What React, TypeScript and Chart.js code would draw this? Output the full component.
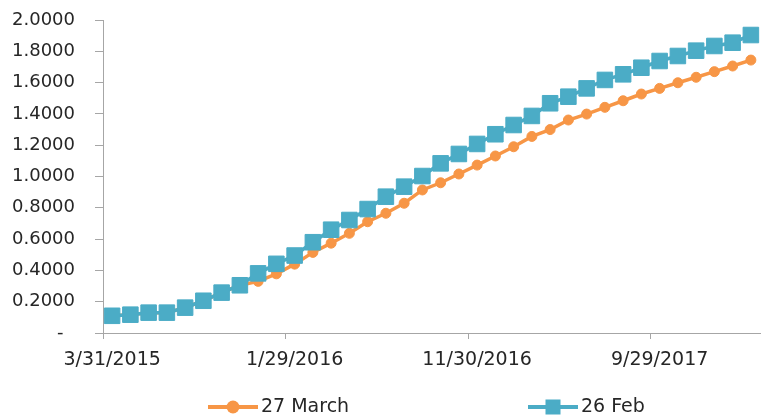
import React, { useEffect, useRef } from 'react';
import { Chart, registerables } from 'chart.js';

Chart.register(...registerables);

// Month-end observation dates
const dates: string[] = [
  '3/31/2015', '4/30/2015', '5/29/2015', '6/30/2015', '7/31/2015', '8/31/2015',
  '9/30/2015', '10/30/2015', '11/30/2015', '12/31/2015',
  '1/29/2016', '2/29/2016', '3/31/2016', '4/29/2016', '5/31/2016', '6/30/2016',
  '7/29/2016', '8/31/2016', '9/30/2016', '10/31/2016', '11/30/2016', '12/30/2016',
  '1/31/2017', '2/28/2017', '3/31/2017', '4/28/2017', '5/31/2017', '6/30/2017',
  '7/31/2017', '8/31/2017', '9/29/2017', '10/31/2017', '11/30/2017', '12/29/2017',
  '1/31/2018', '2/28/2018',
];

// Curve as of 27 March
const march27: number[] = [
  0.110, 0.117, 0.130, 0.130, 0.162, 0.206, 0.258, 0.305, 0.330, 0.378,
  0.440, 0.515, 0.574, 0.637, 0.711, 0.765, 0.829, 0.914, 0.960, 1.016,
  1.073, 1.131, 1.190, 1.256, 1.300, 1.361, 1.399, 1.442, 1.484, 1.527,
  1.563, 1.599, 1.634, 1.670, 1.706, 1.744,
];

// Curve as of 26 Feb
const feb26: number[] = [
  0.110, 0.117, 0.130, 0.130, 0.162, 0.206, 0.258, 0.305, 0.381, 0.442,
  0.495, 0.580, 0.660, 0.722, 0.792, 0.871, 0.935, 1.003, 1.084, 1.144,
  1.208, 1.270, 1.329, 1.387, 1.468, 1.510, 1.563, 1.617, 1.653, 1.695,
  1.738, 1.770, 1.804, 1.834, 1.855, 1.904,
];

const seriesLabels: string[] = ['27 March', '26 Feb'];

const ORANGE = '#F79646';
const BLUE = '#4BACC6';
const AXIS = '#a6a6a6';
const TEXT = '#262626';
const FONT = "'DejaVu Sans', sans-serif";
const LABEL_EVERY = 10;

// Legend drawn under the axis: a short line with the series marker, then its name
const lineLegend = {
  id: 'lineLegend',
  afterDraw(chart: any) {
    const ctx = chart.ctx as CanvasRenderingContext2D;
    const y = 407;
    const starts = [208, 528];
    chart.data.datasets.forEach((ds: any, i: number) => {
      const x0 = starts[i];
      ctx.save();
      ctx.strokeStyle = ds.borderColor;
      ctx.lineWidth = 4;
      ctx.beginPath();
      ctx.moveTo(x0, y);
      ctx.lineTo(x0 + 50, y);
      ctx.stroke();
      ctx.fillStyle = ds.borderColor;
      if (ds.pointStyle === 'rect') {
        ctx.fillRect(x0 + 25 - 7.5, y - 7.5, 15, 15);
      } else {
        ctx.beginPath();
        ctx.arc(x0 + 25, y, 6.5, 0, Math.PI * 2);
        ctx.fill();
      }
      ctx.font = `19px ${FONT}`;
      ctx.fillStyle = TEXT;
      ctx.textAlign = 'left';
      ctx.textBaseline = 'middle';
      ctx.fillText(ds.label, x0 + 53, y);
      ctx.restore();
    });
  },
};

export default function App() {
  const canvasRef = useRef<HTMLCanvasElement | null>(null);

  useEffect(() => {
    if (!canvasRef.current) return;
    const chart = new Chart(canvasRef.current, {
      type: 'line',
      data: {
        labels: dates,
        datasets: [
          {
            label: seriesLabels[0],
            data: march27,
            borderColor: ORANGE,
            backgroundColor: ORANGE,
            borderWidth: 3.5,
            pointStyle: 'circle',
            pointRadius: 5,
            pointBorderWidth: 1,
            pointBorderColor: ORANGE,
            pointBackgroundColor: ORANGE,
            tension: 0,
            clip: false,
            order: 1,
          },
          {
            label: seriesLabels[1],
            data: feb26,
            borderColor: BLUE,
            backgroundColor: BLUE,
            borderWidth: 3.5,
            pointStyle: 'rect',
            pointRadius: 11,
            pointBorderWidth: 1,
            pointBorderColor: BLUE,
            pointBackgroundColor: BLUE,
            tension: 0,
            clip: false,
            order: 0,
          },
        ],
      },
      options: {
        animation: false,
        responsive: false,
        layout: { autoPadding: false, padding: { left: 0, right: 2, top: 20, bottom: 0 } },
        plugins: {
          legend: { display: false },
          tooltip: { enabled: false },
        },
        scales: {
          x: {
            type: 'category',
            offset: true,
            grid: {
              offset: true,
              drawOnChartArea: false,
              drawTicks: true,
              tickLength: 6,
              color: (c: any) => (c.index % LABEL_EVERY === 0 ? AXIS : 'rgba(0,0,0,0)'),
            },
            border: { display: true, color: AXIS, width: 1 },
            ticks: {
              autoSkip: false,
              maxRotation: 0,
              minRotation: 0,
              padding: 10,
              color: TEXT,
              font: { family: FONT, size: 19 },
              callback: (_v: any, i: number) => (i % LABEL_EVERY === 0 ? dates[i] : ''),
            },
            afterFit: (s: any) => {
              s.height = 83;
              s.paddingLeft = 0;
              s.paddingRight = 0;
            },
          },
          y: {
            min: 0,
            max: 2,
            grid: {
              drawOnChartArea: false,
              drawTicks: true,
              tickLength: 8,
              color: AXIS,
            },
            border: { display: true, color: AXIS, width: 1 },
            ticks: {
              stepSize: 0.2,
              padding: 20,
              color: TEXT,
              font: { family: FONT, size: 18 },
              callback: (v: any) => (Math.abs(Number(v)) < 1e-9 ? '-\u00a0\u00a0' : Number(v).toFixed(4)),
            },
            afterFit: (s: any) => {
              s.width = 103;
              s.paddingTop = 0;
              s.paddingBottom = 0;
            },
          },
        },
      },
      plugins: [lineLegend],
    });
    return () => chart.destroy();
  }, []);

  return (
    <div style={{ position: 'absolute', left: 0, top: 0, width: 762, height: 416, background: '#fff' }}>
      <canvas ref={canvasRef} width={762} height={416} style={{ display: 'block' }} />
    </div>
  );
}
